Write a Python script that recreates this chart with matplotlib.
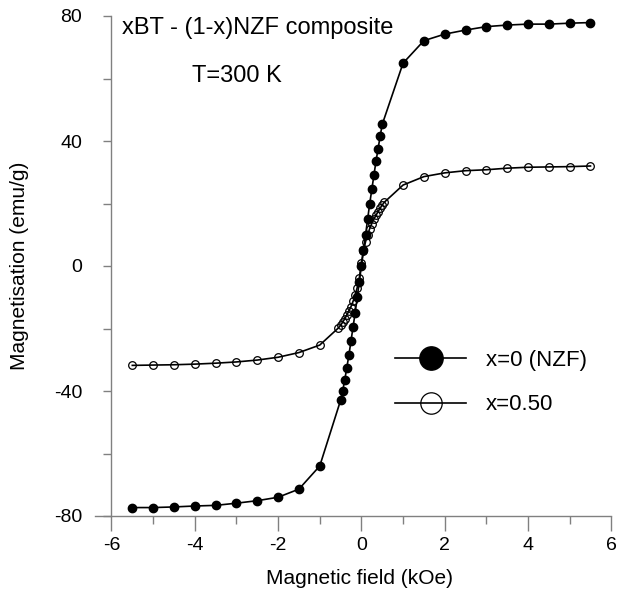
import numpy as np
import matplotlib
matplotlib.use("Agg")
import matplotlib.pyplot as plt

plt.rcParams['font.family'] = ['Liberation Sans', 'DejaVu Sans']
plt.rcParams['axes.unicode_minus'] = False

# x = 0 (NZF), filled circles
field_nzf = [-5.5, -5.0, -4.5, -4.0, -3.5, -3.0, -2.5, -2.0, -1.5, -1.0,
             -0.5, -0.45, -0.4, -0.35, -0.3, -0.25, -0.2, -0.15, -0.1, -0.05,
             0.0, 0.05, 0.1, 0.15, 0.2, 0.25, 0.3, 0.35, 0.4, 0.45, 0.5,
             1.0, 1.5, 2.0, 2.5, 3.0, 3.5, 4.0, 4.5, 5.0, 5.5]
mag_nzf = [-77.3, -77.3, -77.1, -76.8, -76.6, -75.9, -75.1, -74.0, -71.4, -64.0,
           -43.0, -40.0, -36.5, -32.5, -28.5, -24.0, -19.5, -15.0, -10.0, -5.0,
           0.0, 5.0, 10.0, 15.0, 20.0, 24.5, 29.0, 33.5, 37.5, 41.5, 45.3,
           64.9, 72.1, 74.2, 75.5, 76.6, 77.1, 77.4, 77.4, 77.7, 77.9]

# x = 0.50, open circles
field_050 = [-5.5, -5.0, -4.5, -4.0, -3.5, -3.0, -2.5, -2.0, -1.5, -1.0,
             -0.55, -0.5, -0.45, -0.4, -0.35, -0.3, -0.25, -0.2, -0.15, -0.1, -0.05,
             0.0, 0.05, 0.1, 0.15, 0.2, 0.25, 0.3, 0.35, 0.4, 0.45, 0.5, 0.55,
             1.0, 1.5, 2.0, 2.5, 3.0, 3.5, 4.0, 4.5, 5.0, 5.5]
mag_050 = [-31.8, -31.7, -31.6, -31.4, -31.1, -30.7, -30.1, -29.2, -27.7, -25.3,
           -19.8, -19.0, -18.0, -16.9, -15.7, -14.4, -13.0, -11.3, -9.3, -6.9, -3.9,
           1.0, 4.8, 7.8, 10.0, 12.0, 13.6, 15.0, 16.2, 17.4, 18.5, 19.5, 20.4,
           25.9, 28.6, 29.8, 30.5, 30.8, 31.3, 31.6, 31.7, 31.8, 32.0]

x_major = [-6, -4, -2, 0, 2, 4, 6]
x_minor = [-5, -3, -1, 1, 3, 5]
y_major = [-80, -40, 0, 40, 80]
y_minor = [-60, -20, 20, 60]

fig = plt.figure(figsize=(6.27, 5.94), dpi=100)
ax = fig.add_axes([95 / 627, 1 - 516 / 594, (611.3 - 95) / 627, 500 / 594])

ax.plot(field_nzf, mag_nzf, color='black', lw=1.2, marker='o', ms=6,
        mfc='black', mec='black', label='x=0 (NZF)', zorder=3)
ax.plot(field_050, mag_050, color='black', lw=1.2, marker='o', ms=5.5,
        mfc='none', mec='black', mew=0.9, label='x=0.50', zorder=4)

ax.set_xlim(-6.396, 6)
ax.set_ylim(-80, 80)
ax.spines['left'].set_position(('data', -6))
ax.spines['top'].set_visible(False)
ax.spines['right'].set_visible(False)
for s in ('left', 'bottom'):
    ax.spines[s].set_color('#808080')
    ax.spines[s].set_linewidth(1.0)

ax.set_xticks(x_major)
ax.set_xticks(x_minor, minor=True)
ax.set_yticks(y_major)
ax.set_yticks(y_minor, minor=True)
ax.tick_params(axis='x', which='major', direction='out', length=11, width=1,
               color='#808080', labelsize=14, pad=4)
ax.tick_params(axis='x', which='minor', direction='out', length=6, width=1,
               color='#808080')
ax.tick_params(axis='y', which='both', direction='out', length=6, width=1,
               color='#808080', labelsize=14, pad=15)

ax.set_xlabel('Magnetic field (kOe)', fontsize=15)
ax.set_ylabel('Magnetisation (emu/g)', fontsize=15)
ax.xaxis.set_label_coords(0.513, -0.105)
ax.yaxis.set_label_coords(-0.128, 0.5)

fig.text(122 / 627, 1 - 28 / 594, 'xBT - (1-x)NZF composite', fontsize=17,
         ha='left', va='center')
fig.text(237 / 627, 1 - 76 / 594, 'T=300 K', fontsize=17, ha='center', va='center')

ax.legend(loc='upper left', bbox_to_anchor=(395 / 627, 1 - 350 / 594),
          bbox_transform=fig.transFigure, frameon=False, fontsize=16,
          markerscale=2.8, handlelength=3.2, handletextpad=0.9,
          labelspacing=1.05, borderpad=0, borderaxespad=0)

fig.savefig('out.png', dpi=100)
